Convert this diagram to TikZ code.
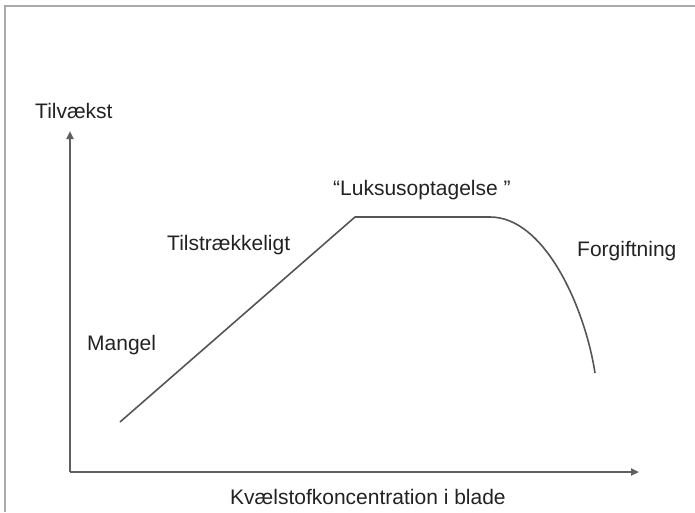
\documentclass[tikz,border=0pt]{standalone}
\usepackage{fontspec}
\setmainfont{Liberation Sans}
\usepackage{tikz}
\usetikzlibrary{arrows.meta}
\definecolor{ink}{HTML}{222222}
\definecolor{axisgray}{HTML}{5F5F5F}
\definecolor{curvegray}{HTML}{555555}
\definecolor{framegray}{HTML}{AAAAAA}
\tikzset{
  lbl/.style   ={font=\fontsize{21}{25}\selectfont, text=ink, inner sep=0pt, anchor=base west},
  ax/.style    ={draw=axisgray, line width=2pt, -{Triangle[length=8pt,width=7pt]}},
  crv/.style   ={draw=curvegray, line width=1.6pt},
  frame/.style ={draw=framegray, line width=1.8pt},
}

\begin{document}
\begin{tikzpicture}[x=1pt,y=-1pt]
  \useasboundingbox (0,0) rectangle (695,512);
  \draw[frame] (695,6) -- (5,6) -- (5,512);
  % axes
  \coordinate (origin) at (70,472);
  \coordinate (ytip) at (70,131);
  \coordinate (xtip) at (639,472);
  \draw[ax] (origin) -- (ytip);
  \draw[ax] (origin) -- (xtip);
  % response curve
  \coordinate (c0) at (120,422);
  \coordinate (c1) at (355,217);
  \coordinate (c2) at (490,217);
  \coordinate (c3) at (595,373);
  \draw[crv,line join=round] (c0) -- (c1) -- (c2)
        .. controls (545,217) and (585,308) .. (c3);
  % labels
  \node[lbl] (ylab)  at (35,118)  {Tilvækst};
  \node[lbl] (xlab)  at (230,504) {Kvælstofkoncentration i blade};
  \node[lbl] (luks)  at (333,195) {“Luksusoptagelse ”};
  \node[lbl] (tilst) at (167,250) {Tilstrækkeligt};
  \node[lbl] (forg)  at (577,256) {Forgiftning};
  \node[lbl] (mang)  at (87,350)  {Mangel};
\end{tikzpicture}
\end{document}
